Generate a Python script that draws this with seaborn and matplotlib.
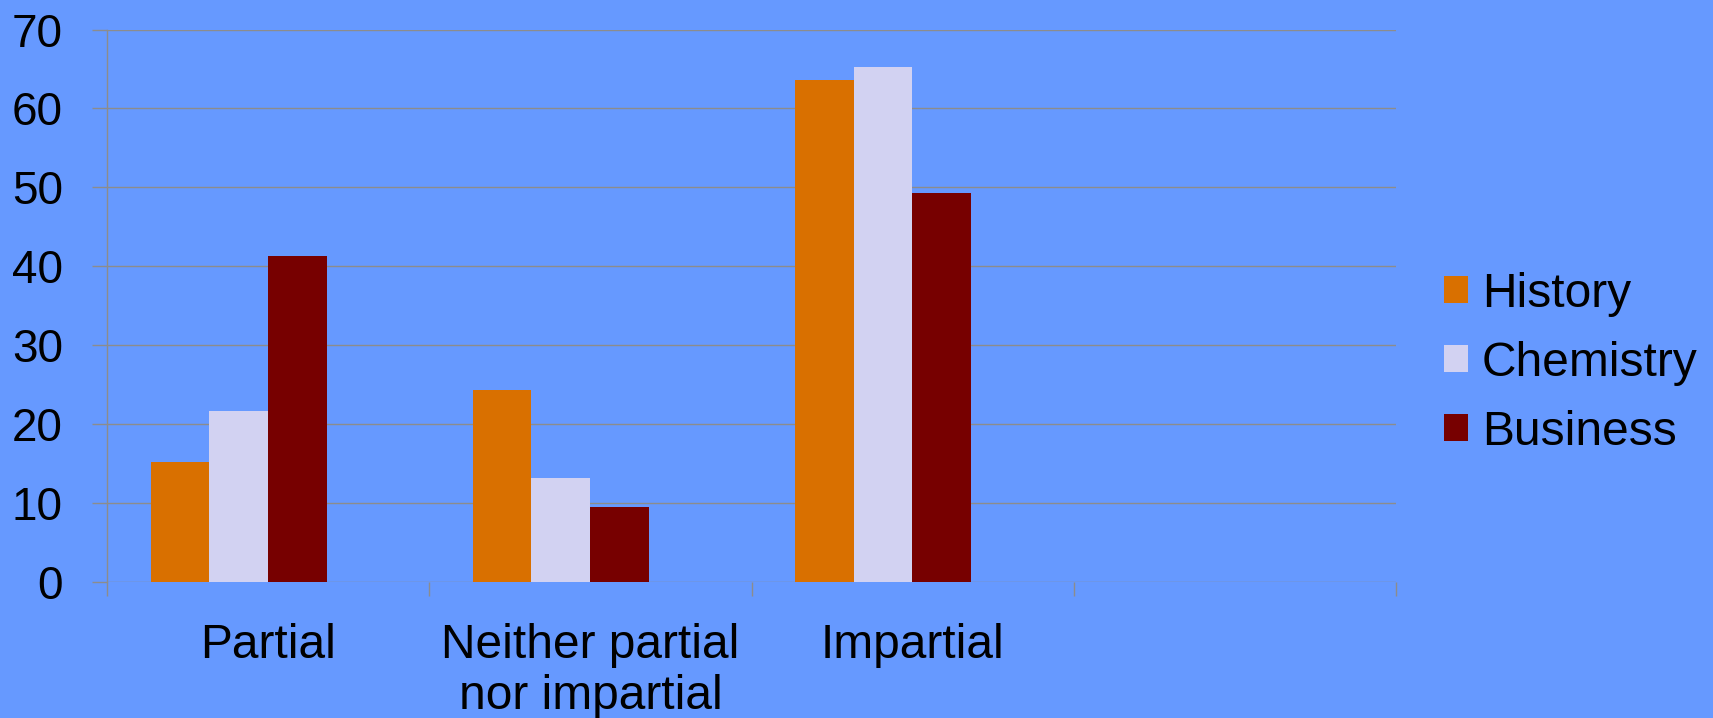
import matplotlib
matplotlib.use("Agg")
import matplotlib.pyplot as plt
import seaborn as sns
import pandas as pd
import numpy as np

# Survey responses by discipline (percent)
categories = ["Partial", "Neither partial\nnor impartial", "Impartial"]
subjects = ["History", "Chemistry", "Business"]
history = [15.2, 24.3, 63.6]
chemistry = [21.6, 13.2, 65.3]
business = [41.3, 9.5, 49.3]
y_ticks = [0, 10, 20, 30, 40, 50, 60, 70]

palette = {"History": "#D97000", "Chemistry": "#D2D2F2", "Business": "#770000"}
bg = "#6699FF"
grid_col = "#8C8C8C"

sns.set_theme(style="white")
plt.rcParams["font.family"] = ["Liberation Sans", "DejaVu Sans"]
plt.rcParams["text.color"] = "black"

rows = []
for name, vals in zip(subjects, [history, chemistry, business]):
    for cat, v in zip(categories, vals):
        rows.append({"category": cat, "subject": name, "value": v})
df = pd.DataFrame(rows)

fig = plt.figure(figsize=(17.13, 7.18), dpi=100, facecolor=bg)
ax = fig.add_axes([0.0625, 0.1898, 0.815 - 0.0625, 0.9589 - 0.1898])
ax.set_facecolor(bg)

sns.barplot(data=df, x="category", y="value", hue="subject", order=categories,
            hue_order=subjects, palette=palette, width=0.546, linewidth=0,
            saturation=1, errorbar=None, ax=ax, zorder=3)

ax.yaxis.grid(True, color=grid_col, linewidth=1.0)
ax.set_axisbelow(True)

# four category slots; the bar groups sit slightly left of the slot centres
shift = 0.092
ax.set_xlim(-0.5 + shift, 3.5 + shift)
ax.set_ylim(0, 70)
ax.set_yticks(y_ticks)
ax.set_yticklabels([str(t) for t in y_ticks])

centers = np.arange(4) + shift
ax.set_xticks(centers)
ax.set_xticklabels(categories + [""], fontsize=34.5, linespacing=1.15)
ax.set_xticks(np.arange(5) - 0.5 + shift, minor=True)
ax.tick_params(axis="x", which="major", bottom=True, length=0, pad=30,
               labelcolor="black")
ax.tick_params(axis="x", which="minor", bottom=True, length=10, width=1.0,
               color=grid_col, direction="out")
ax.tick_params(axis="y", which="major", left=True, length=10.8, width=1.0,
               color=grid_col, direction="out", labelsize=33, pad=21,
               labelcolor="black")

for side in ["top", "right", "bottom"]:
    ax.spines[side].set_visible(False)
ax.spines["left"].set_color(grid_col)
ax.spines["left"].set_linewidth(1.0)
ax.set_xlabel("")
ax.set_ylabel("")

handles, labels = ax.get_legend_handles_labels()
if ax.legend_:
    ax.legend_.remove()
fig.legend(handles, labels, loc="center left", bbox_to_anchor=(0.843, 0.494),
           frameon=False, fontsize=34.5, handlelength=0.5, handleheight=0.5,
           handletextpad=0.29, labelspacing=0.5, borderpad=0,
           borderaxespad=0, labelcolor="black")

fig.savefig("out.png", dpi=100, facecolor=bg)
